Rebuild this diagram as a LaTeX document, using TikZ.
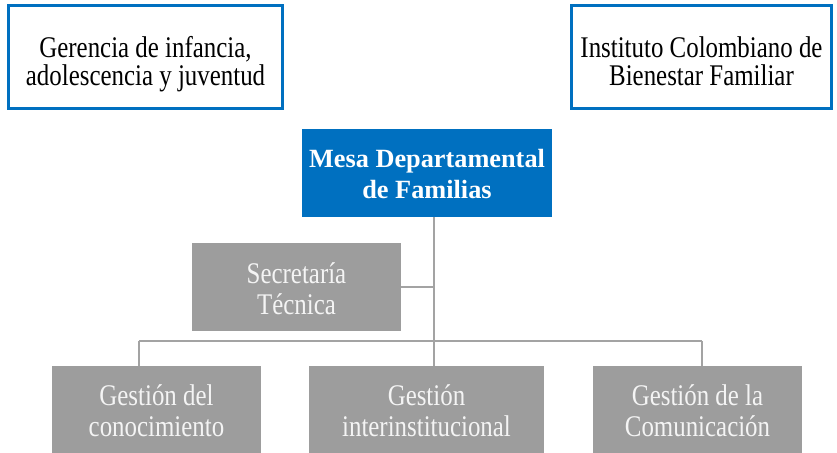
\documentclass[tikz,border=0pt]{standalone}
\usepackage{fontspec}
\setmainfont[FakeStretch=0.83]{Liberation Serif}
\newfontfamily\mesafont{Liberation Serif}
\definecolor{ablue}{HTML}{0070C0}
\definecolor{agray}{HTML}{9D9D9D}
\definecolor{lgray}{HTML}{A3A3A3}
\definecolor{wtext}{HTML}{F4F4F4}
\begin{document}
\begin{tikzpicture}[x=1pt,y=-1pt,
  outline/.style={draw=ablue,line width=2.6pt,fill=white,inner sep=0pt,align=center,
    font=\fontsize{30}{28.4}\selectfont,text=black,text height=57pt,text depth=0pt},
  mesabox/.style={fill=ablue,inner sep=0pt,align=center,text=white,
    font=\mesafont\bfseries\fontsize{26.3}{30.6}\selectfont,text height=50.6pt,text depth=0pt},
  graybox/.style={fill=agray,inner sep=0pt,align=center,text=wtext,
    font=\fontsize{30}{30.5}\selectfont,text height=52pt,text depth=0pt},
  conn/.style={draw=lgray,line width=2pt}]
\useasboundingbox (0,0) rectangle (837,452);
\node[outline,minimum width=274pt,minimum height=103pt] (ger) at (145.5,57) {Gerencia de infancia,\\adolescencia y juventud};
\node[outline,minimum width=260pt,minimum height=103pt] (icbf) at (701.5,57) {Instituto Colombiano de\\Bienestar Familiar};
\node[mesabox,minimum width=250pt,minimum height=88pt] (mesa) at (427,173) {Mesa Departamental\\de Familias};
\node[graybox,minimum width=209pt,minimum height=88pt,text height=54pt] (sec) at (296.5,287) {Secretaría\\Técnica};
\node[graybox,minimum width=209pt,minimum height=88pt] (g1) at (156.5,410) {Gestión del\\conocimiento};
\node[graybox,minimum width=235pt,minimum height=88pt] (g2) at (426.5,410) {Gestión\\interinstitucional};
\node[graybox,minimum width=209pt,minimum height=88pt] (g3) at (697.5,410) {Gestión de la\\Comunicación};
\coordinate (jx) at (434,341);
\coordinate (l1) at (139,341);
\coordinate (l3) at (702,341);
\path[conn] (mesa.south -| jx) -- (jx);
\path[conn] (sec.east) -- (sec.east -| jx);
\path[conn] (l1) -- (l3);
\path[conn] (l1) -- (l1 |- g1.north);
\path[conn] (jx) -- (jx |- g2.north);
\path[conn] (l3) -- (l3 |- g3.north);
\end{tikzpicture}
\end{document}
